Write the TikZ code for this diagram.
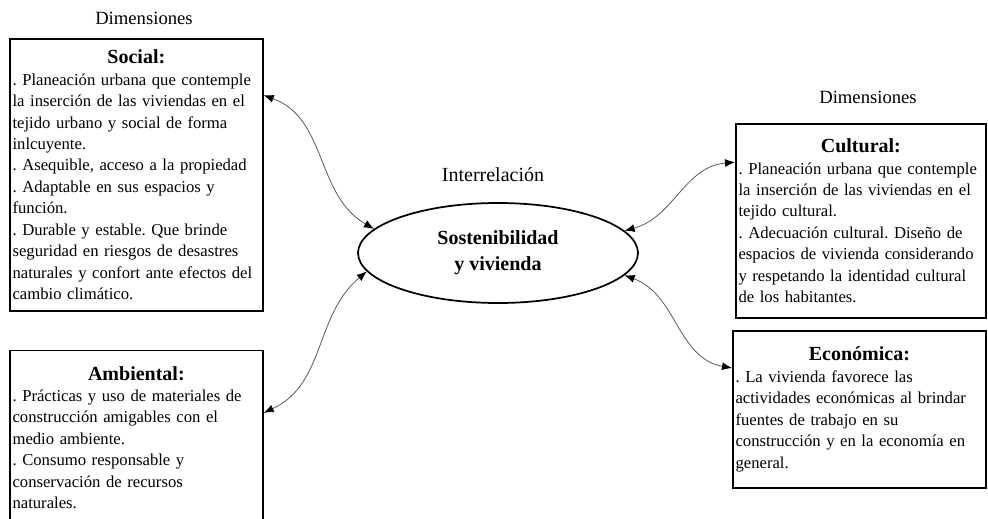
\documentclass[tikz,border=0pt]{standalone}
\usepackage{fontspec}
\setmainfont{Liberation Serif}
\usetikzlibrary{shapes.geometric,arrows.meta,positioning}
\frenchspacing
\hyphenpenalty=10000
\exhyphenpenalty=10000
\hbadness=10000
\tikzstyle{dimbox} = [draw, line width=1.3pt, rectangle, align=left,
    inner xsep=2pt, inner ysep=0pt, font=\fontsize{12.5}{16.1}\selectfont]
\tikzstyle{hub} = [draw, ellipse, line width=1.3pt, minimum width=210pt,
    minimum height=75pt, inner sep=0pt, align=center,
    font=\fontsize{15}{19.5}\selectfont\bfseries]
\tikzstyle{tag} = [font=\fontsize{14}{16}\selectfont]
\tikzstyle{link} = [<->, gray!70!black, line width=0.6pt]
\newcommand{\boxtitle}[1]{\makebox[\hsize]{\fontsize{15}{16}\selectfont\bfseries #1}}

\begin{document}
\begin{tikzpicture}[x=0.75pt, y=-0.75pt, >={Latex[length=7.5pt,width=6pt,color=black]}]
\useasboundingbox (0,0) rectangle (988,518);
\clip (0,0) rectangle (988,518);

\node [hub] (sv) at (498,253) {Sostenibilidad\\y vivienda};
\node [tag, font=\fontsize{15}{16}\selectfont] (inter) at (493,175) {Interrelación};

\node [dimbox, anchor=north west, text width=185.75pt, minimum height=204pt] (social) at (9,38) {\boxtitle{Social:}\\
. Planeación urbana que contemple\\
la inserción de las viviendas en el\\
tejido urbano y social de forma\\
inlcuyente.\\
. Asequible, acceso a la propiedad\\
. Adaptable en sus espacios y\\
función.\\
. Durable y estable. Que brinde\\
seguridad en riesgos de desastres\\
naturales y confort ante efectos del\\
cambio climático.};
\node [dimbox, below=28.5pt of social.south west, anchor=north west, text width=185.75pt, minimum height=130.5pt] (ambiental) {\boxtitle{Ambiental:}\\
. Prácticas y uso de materiales de\\
construcción amigables con el\\
medio ambiente.\\
. Consumo responsable y\\
conservación de recursos\\
naturales.};
\node [dimbox, anchor=north west, text width=183.5pt, minimum height=145.5pt] (cultural) at (735,123) {\boxtitle{Cultural:}\\
. Planeación urbana que contemple\\
la inserción de las viviendas en el\\
tejido cultural.\\
. Adecuación cultural. Diseño de\\
espacios de vivienda considerando\\
y respetando la identidad cultural\\
de los habitantes.};
\node [dimbox, anchor=north west, text width=185.75pt, minimum height=117.75pt] (economica) at (732,330) {\boxtitle{Económica:}\\
. La vivienda favorece las\\
actividades económicas al brindar\\
fuentes de trabajo en su\\
construcción y en la economía en\\
general.};

\node [tag] (dimleft) at (144,18) {Dimensiones};
\node [tag] (dimright) at (868,97) {Dimensiones};

% enlaces entre dimensiones y el eje central
\draw [link] (social.32) to[out=-20, in=150] (sv.169);
\draw [link] (ambiental.11) to[out=25, in=220] (sv.188);
\draw [link] (cultural.155) to[out=185, in=15] (sv.10);
\draw [link] (economica.162) to[out=170, in=340] (sv.350);

\end{tikzpicture}
\end{document}
